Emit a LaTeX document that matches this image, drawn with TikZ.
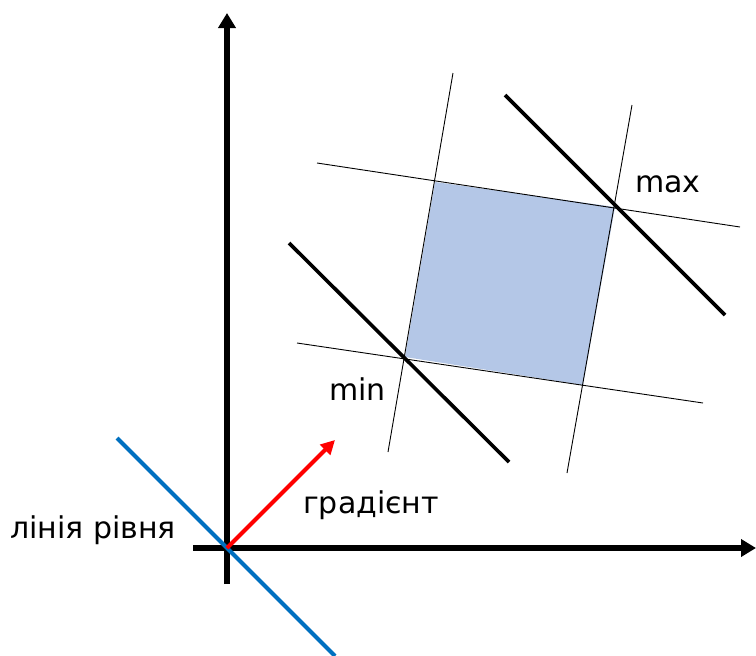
\documentclass[tikz,border=0pt]{standalone}
\usepackage{fontspec}
\setmainfont{DejaVu Sans}
\usetikzlibrary{arrows.meta}
\definecolor{regionfill}{RGB}{180,199,231}
\definecolor{levelblue}{RGB}{0,112,192}
\begin{document}
\begin{tikzpicture}[x=1pt,y=-1pt,
  axis/.style={line width=5.5pt,-{Triangle[width=17pt,length=15pt]}},
  thin/.style={line width=0.9pt},
  level/.style={line width=3.6pt},
  lbl/.style={font=\fontsize{30}{32}\selectfont,anchor=base west,inner sep=0pt}]
\useasboundingbox (0,0) rectangle (756,656);
% axes
\coordinate (O) at (227,548);
\coordinate (ybot) at (227,584);
\coordinate (ytop) at (227,13);
\coordinate (xleft) at (193,548);
\coordinate (xright) at (756,548);
% region
\coordinate (tl) at (435,182);
\coordinate (tr) at (615,207);
\coordinate (br) at (583,385);
\coordinate (bl) at (405,357);
\fill[regionfill] (tl) -- (tr) -- (br) -- (bl) -- cycle;
% thin constraint lines
\coordinate (a1) at (317,163); \coordinate (a2) at (740,227);
\coordinate (b1) at (297,343); \coordinate (b2) at (703,403);
\coordinate (c1) at (453,73);  \coordinate (c2) at (388,452);
\coordinate (d1) at (632,105); \coordinate (d2) at (567,473);
\draw[thin] (a1) -- (a2);
\draw[thin] (b1) -- (b2);
\draw[thin] (c1) -- (c2);
\draw[thin] (d1) -- (d2);
% level lines through max and min
\coordinate (u1) at (505,95);  \coordinate (u2) at (725,315);
\coordinate (l1) at (289,243); \coordinate (l2) at (509,462);
\draw[level] (u1) -- (u2);
\draw[level] (l1) -- (l2);
% axes
\draw[axis] (ybot) -- (ytop);
\draw[axis] (xleft) -- (xright);
% blue level line through origin
\coordinate (bl1) at (117,438);
\coordinate (bl2) at (335,656);
\draw[levelblue,line width=4pt] (bl1) -- (bl2);
% gradient
\coordinate (gtip) at (335,440);
\draw[red,line width=4pt,-{Triangle[width=14pt,length=14pt]}] (O) -- (gtip);
% labels
\node[lbl] (max) at (635,192) {max};
\node[lbl] (min) at (329,400) {min};
\node[lbl] (grad) at (303,513) {градієнт};
\node[lbl] (lev) at (10,538) {лінія рівня};
\end{tikzpicture}
\end{document}
